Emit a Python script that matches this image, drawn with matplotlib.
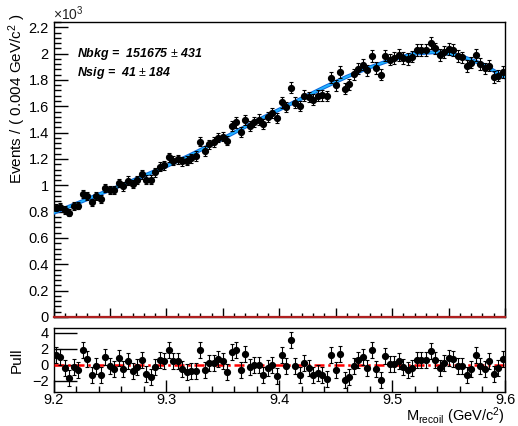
import matplotlib.pyplot as plt
import numpy as np
from matplotlib.ticker import MultipleLocator

plt.rcParams['font.family'] = ['Liberation Sans', 'DejaVu Sans']
plt.rcParams['mathtext.fontset'] = 'custom'
plt.rcParams['mathtext.rm'] = 'Liberation Sans'
plt.rcParams['mathtext.it'] = 'Liberation Sans:italic'
plt.rcParams['mathtext.bf'] = 'Liberation Sans:bold'

# 100 bins of 0.004 GeV between 9.2 and 9.6
bin_centers = 9.202 + 0.004 * np.arange(100)

# events per bin, in units of 10^3
events_k = [0.830, 0.838, 0.813, 0.793, 0.844, 0.846, 0.934, 0.917, 0.870, 0.920,
            0.897, 0.981, 0.962, 0.963, 1.019, 0.991, 1.035, 1.009, 1.040, 1.083,
            1.043, 1.044, 1.098, 1.141, 1.152, 1.214, 1.185, 1.199, 1.184, 1.186,
            1.206, 1.223, 1.332, 1.260, 1.311, 1.328, 1.362, 1.370, 1.340, 1.451,
            1.477, 1.404, 1.494, 1.452, 1.481, 1.499, 1.467, 1.517, 1.550, 1.512,
            1.631, 1.594, 1.740, 1.628, 1.601, 1.679, 1.671, 1.651, 1.679, 1.683,
            1.678, 1.818, 1.760, 1.860, 1.734, 1.768, 1.842, 1.886, 1.916, 1.872,
            1.984, 1.891, 1.839, 1.985, 1.954, 1.965, 1.989, 1.965, 1.960, 1.978,
            2.025, 2.028, 2.030, 2.083, 2.039, 1.992, 2.013, 2.038, 2.026, 1.980,
            1.971, 1.907, 1.931, 1.991, 1.923, 1.888, 1.908, 1.822, 1.833, 1.859]

# pull of each bin
pulls = [1.17, 0.96, -0.42, -1.6, -0.3, -0.7, 1.8, 0.75, -1.3, -0.1,
         -1.3, 0.96, -0.1, -0.5, 0.83, -0.5, 0.42, -0.83, -0.3, 0.54,
         -1.1, -1.5, -0.3, 0.54, 0.42, 1.8, 0.46, 0.42, -0.5, -0.9,
         -0.8, -0.8, 1.8, -0.7, 0.25, 0.25, 0.67, 0.42, -0.9, 1.6,
         1.8, -0.6, 1.3, -0.3, 0.0, 0.0, -1.25, -0.4, 0.0, -1.4,
         1.17, -0.17, 3.04, -0.17, -1.25, 0.25, -0.37, -1.25, -1.0, -1.3,
         -1.8, 1.17, -0.6, 1.4, -1.95, -1.5, -0.1, 0.6, 0.96, -0.37,
         1.9, -0.5, -1.95, 1.1, 0.12, 0.12, 0.46, -0.3, -0.6, -0.4,
         0.54, 0.54, 0.54, 1.67, 0.62, -0.37, 0.2, 0.87, 0.75, -0.17,
         -0.17, -1.33, -0.5, 1.17, -0.1, -0.5, 0.42, -1.1, -0.4, 0.67]

# fitted pdf read every 0.02 GeV, in units of 10^3
fit_x = np.linspace(9.2, 9.6, 21)
fit_k = [0.790, 0.860, 0.930, 1.000, 1.072, 1.145, 1.225, 1.310, 1.400, 1.490,
         1.575, 1.660, 1.745, 1.825, 1.895, 1.955, 2.000, 2.012, 1.985, 1.920, 1.820]
sig_k = [0.0] * 21

top_yticks = [0, 0.2, 0.4, 0.6, 0.8, 1.0, 1.2, 1.4, 1.6, 1.8, 2.0, 2.2]
top_ylabels = ['0', '0.2', '0.4', '0.6', '0.8', '1', '1.2', '1.4', '1.6', '1.8', '2', '2.2']
pull_yticks = [-2, 0, 2, 4]
pull_ylabels = ['\u22122', '0', '2', '4']
xticks = [9.2, 9.3, 9.4, 9.5, 9.6]
xlabels = ['9.2', '9.3', '9.4', '9.5', '9.6']

events_k = np.array(events_k)
errors_k = np.sqrt(events_k * 1000) / 1000   # poisson errors

W, H = 518, 426
fig = plt.figure(figsize=(W / 100, H / 100), dpi=100)
ax = fig.add_axes([53.5 / W, 1 - 317 / H, 451.5 / W, 295 / H])
axp = fig.add_axes([53.5 / W, 1 - 392 / H, 451.5 / W, 64 / H])

#top panel: data + fit
ax.plot(fit_x, fit_k, color='#0a66dd', lw=2.8, zorder=3)
ax.plot(fit_x, fit_k, color='#22b4ff', lw=1.4, zorder=3)
ax.plot(fit_x, sig_k, color='#b02020', lw=1.6, zorder=3, clip_on=False)
ax.errorbar(bin_centers, events_k, yerr=errors_k, fmt='o', color='black', ms=4.2,
            elinewidth=0.8, capsize=1.3, capthick=0.8, zorder=4)
ax.set_xlim(9.2, 9.6)
ax.set_ylim(0, 2.24)
ax.set_yticks(top_yticks)
ax.set_yticklabels(top_ylabels)
ax.yaxis.set_minor_locator(MultipleLocator(0.04))
ax.xaxis.set_major_locator(MultipleLocator(0.05))
ax.xaxis.set_minor_locator(MultipleLocator(0.01))
ax.tick_params(axis='x', which='both', labelbottom=False)
ax.tick_params(which='both', direction='in', top=False, right=False, width=1.0, labelsize=10.5)
ax.tick_params(axis='y', which='major', length=10)
ax.tick_params(axis='y', which='minor', length=5)
ax.tick_params(axis='x', which='major', length=6.5)
ax.tick_params(axis='x', which='minor', length=3.2)

fig.text(77 / W, 1 - 57 / H, 'Nbkg =  151675 $\\pm$ 431', fontsize=8.9, fontweight='bold',
         style='italic', va='baseline')
fig.text(77 / W, 1 - 76 / H, 'Nsig =  41 $\\pm$ 184', fontsize=8.9, fontweight='bold',
         style='italic', va='baseline')
fig.text(53 / W, 1 - 20 / H, '$\\times$10$^{3}$', fontsize=10, va='baseline', color='#222222')
fig.text(17 / W, 1 - 14 / H, 'Events / ( 0.004 GeV/c$^{2}$ )', fontsize=11, rotation=90,
         ha='center', va='top')

#bottom panel: pulls
axp.plot(fit_x, sig_k, color='red', lw=1.8, ls=(0, (4, 1.5, 1, 1.5)), zorder=3)
axp.errorbar(bin_centers, pulls, yerr=1.0, fmt='o', color='black', ms=4.2,
             elinewidth=0.8, capsize=1.3, capthick=0.8, zorder=4)
axp.set_xlim(9.2, 9.6)
axp.set_ylim(-3.4, 4.6)
axp.set_yticks(pull_yticks)
axp.set_yticklabels(pull_ylabels)
axp.set_xticks(xticks)
axp.set_xticklabels(xlabels)
axp.xaxis.set_minor_locator(MultipleLocator(0.02))
axp.tick_params(which='both', direction='in', top=False, right=False, width=1.0, labelsize=10.5)
axp.tick_params(axis='y', which='major', length=16.5)
axp.tick_params(axis='x', which='major', length=9, pad=1)
axp.tick_params(axis='x', which='minor', length=4.3)
fig.text(17 / W, 1 - 360 / H, 'Pull', fontsize=11, rotation=90, ha='center', va='center')
fig.text(505 / W, 1 - 421 / H, 'M$_{\\mathrm{recoil}}$ (GeV/c$^{2}$)', fontsize=10.5,
         ha='right', va='baseline')

for a in (ax, axp):
    for s in a.spines.values():
        s.set_linewidth(1.0)

fig.savefig('out.png', dpi=100)
